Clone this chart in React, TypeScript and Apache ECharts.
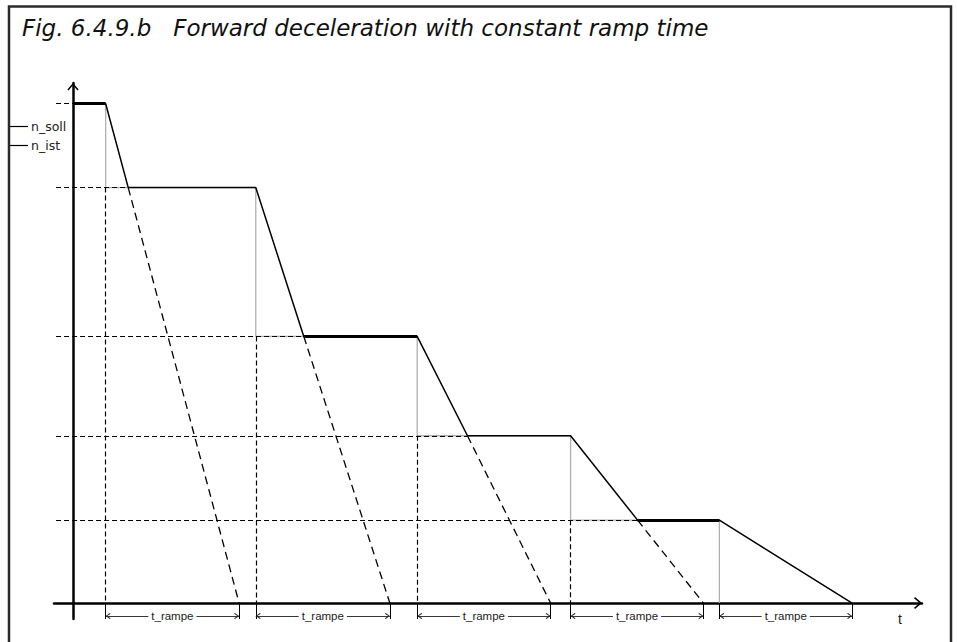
import React, { useEffect, useRef } from 'react';
import * as echarts from 'echarts';

// ---- data ----
const titleText = 'Fig. 6.4.9.b   Forward deceleration with constant ramp time';
const legendNames = ['n_soll', 'n_ist'];
const axisName = 't';
const dimLabel = 't_rampe';
// speed levels (top level first), in % of the initial speed
const levels = [100, 83.2, 53.4, 33.5, 16.6];
// instants where the set point n_soll steps down
const stepTimes = [2.45, 13.7, 25.8, 37.3, 48.45];
// instants where n_ist reaches the new set point
const crossTimes = [4.14, 17.3, 29.57, 42.32];
// instants where each ramp would reach zero (end of t_rampe)
const rampEnds = [12.45, 23.75, 35.8, 47.25, 58.4];
// construction-line start, dimension line level and bottom of the end ticks
const guideStart = -1.27;
const dimLevel = -2.6;
const tickBottom = -3.2;
// axis extent
const xMin = -1.424;
const xMax = 63.64;
const yMin = -3.2;
const yMax = 104.15;

const FONT = '"Liberation Sans", Arial, sans-serif';
const WIDE_FONT = '"DejaVu Sans", "Liberation Sans", sans-serif';
const AXIS_ARROW = 'path://M0,7 L6,0 L12,7 L10.8,8 L6,2.4 L1.2,8 Z';
const DIM_ARROW = 'path://M3,0.2 L3,0.21 Z M0,9 L3,5 L6,9 L5.2,9.8 L3,6.4 L0.8,9.8 Z';

// ---- series construction ----
const sollData: number[][] = [[0, levels[0]]];
stepTimes.forEach((t, i) => {
  sollData.push([t, levels[i]]);
  sollData.push([t, i + 1 < levels.length ? levels[i + 1] : 0]);
});

const istData: number[][] = [[0, levels[0]]];
stepTimes.forEach((t, i) => {
  istData.push([t, levels[i]]);
  if (i < crossTimes.length) istData.push([crossTimes[i], levels[i + 1]]);
  else istData.push([rampEnds[i], 0]);
});

const thickPlateaus = [
  [[0, levels[0]], [stepTimes[0], levels[0]]],
  [[crossTimes[1], levels[2]], [stepTimes[2], levels[2]]],
  [[crossTimes[3], levels[4]], [stepTimes[4], levels[4]]],
];

const dashedGuides: number[][][] = [];
dashedGuides.push([[guideStart, levels[0]], [0, levels[0]]]);
for (let i = 1; i < levels.length; i++) {
  dashedGuides.push([[guideStart, levels[i]], [crossTimes[i - 1], levels[i]]]);
}
const dashedVerticals: number[][][] = [];
const dashedRamps: number[][][] = [];
for (let i = 0; i < crossTimes.length; i++) {
  dashedVerticals.push([[stepTimes[i], levels[i + 1]], [stepTimes[i], 0]]);
  dashedRamps.push([[crossTimes[i], levels[i + 1]], [rampEnds[i], 0]]);
}

const ticks = [...stepTimes, ...rampEnds].map((t) => [[t, 0], [t, tickBottom]]);
const dims = stepTimes.map((t, i) => [[t, dimLevel], [rampEnds[i], dimLevel]]);

const linesBase = {
  type: 'lines',
  coordinateSystem: 'cartesian2d',
  silent: true,
  clip: false,
  symbol: 'none',
};

const option: any = {
  animation: false,
  backgroundColor: '#ffffff',
  title: {
    text: titleText,
    left: 22,
    top: 16,
    padding: 0,
    textStyle: {
      fontFamily: WIDE_FONT,
      fontSize: 23,
      fontStyle: 'italic',
      fontWeight: 'normal',
      color: '#111',
    },
  },
  legend: {
    orient: 'vertical',
    left: 8,
    top: 120,
    padding: 0,
    itemGap: 6,
    itemWidth: 20,
    itemHeight: 1.2,
    selectedMode: false,
    itemStyle: { borderWidth: 0 },
    textStyle: { fontFamily: WIDE_FONT, fontSize: 12.5, color: '#222', padding: [0, 0, 0, -2] },
    data: legendNames.map((n) => ({ name: n, icon: 'rect', itemStyle: { color: '#000', borderWidth: 0 } })),
  },
  graphic: [
    {
      type: 'rect',
      silent: true,
      z: 100,
      shape: { x: 9, y: 6.5, width: 942, height: 700 },
      style: { fill: 'none', stroke: '#2b2b2b', lineWidth: 2.5 },
    },
  ],
  grid: { left: 54, right: 35, top: 83, bottom: 23, containLabel: false },
  xAxis: {
    type: 'value',
    min: xMin,
    max: xMax,
    name: axisName,
    nameLocation: 'end',
    nameGap: -22,
    nameTextStyle: {
      fontFamily: FONT,
      fontSize: 14,
      color: '#222',
      align: 'center',
      verticalAlign: 'top',
      padding: [9, 0, 0, 0],
    },
    axisLine: {
      show: true,
      onZero: true,
      symbol: ['none', AXIS_ARROW],
      symbolSize: [12, 8],
      symbolOffset: [0, -4],
      lineStyle: { color: '#000', width: 2.5 },
    },
    axisTick: { show: false },
    axisLabel: { show: false },
    splitLine: { show: false },
  },
  yAxis: {
    type: 'value',
    min: yMin,
    max: yMax,
    axisLine: {
      show: true,
      onZero: true,
      symbol: ['none', AXIS_ARROW],
      symbolSize: [12, 7.5],
      symbolOffset: [0, -3.75],
      lineStyle: { color: '#000', width: 2.5 },
    },
    axisTick: { show: false },
    axisLabel: { show: false },
    splitLine: { show: false },
  },
  series: [
    {
      name: legendNames[0],
      type: 'line',
      data: sollData,
      symbol: 'none',
      showSymbol: false,
      silent: true,
      z: 2,
      lineStyle: { color: '#b0b0b0', width: 1.3 },
      itemStyle: { color: '#b0b0b0' },
    },
    {
      ...linesBase,
      z: 3,
      data: dashedGuides.concat(dashedVerticals).map((c) => ({ coords: c })),
      lineStyle: { color: '#000', width: 1.2, type: [5, 3], opacity: 1, curveness: 0 },
    },
    {
      ...linesBase,
      z: 3,
      data: dashedRamps.map((c) => ({ coords: c })),
      lineStyle: { color: '#000', width: 1.3, type: [8, 5], opacity: 1, curveness: 0 },
    },
    {
      name: legendNames[1],
      type: 'line',
      data: istData,
      symbol: 'none',
      showSymbol: false,
      silent: true,
      z: 4,
      lineStyle: { color: '#000', width: 1.5 },
      itemStyle: { color: '#000' },
    },
    {
      ...linesBase,
      z: 5,
      data: thickPlateaus.map((c) => ({ coords: c })),
      lineStyle: { color: '#000', width: 3, opacity: 1, curveness: 0 },
    },
    {
      ...linesBase,
      z: 4,
      data: ticks.map((c) => ({ coords: c })),
      lineStyle: { color: '#000', width: 1, opacity: 1, curveness: 0 },
    },
    {
      ...linesBase,
      z: 4,
      symbol: [DIM_ARROW, DIM_ARROW],
      symbolSize: [[6, 10], [6, 10]],
      data: dims.map((c) => ({ name: dimLabel, coords: c })),
      lineStyle: { color: '#222', width: 0.9, opacity: 1, curveness: 0 },
      label: {
        show: true,
        position: 'insideMiddle',
        formatter: '{b}',
        fontFamily: FONT,
        fontSize: 11.5,
        color: '#222',
        backgroundColor: '#fff',
        padding: [0, 3],
        distance: 0,
      },
    },
  ],
};

export default function App() {
  const ref = useRef<HTMLDivElement>(null);
  useEffect(() => {
    const chart = echarts.init(ref.current as HTMLDivElement, null, { renderer: 'svg' });
    chart.setOption(option);
    return () => chart.dispose();
  }, []);
  return (
    <div
      ref={ref}
      style={{ position: 'fixed', left: 0, top: 0, width: 957, height: 642, background: '#fff' }}
    />
  );
}
